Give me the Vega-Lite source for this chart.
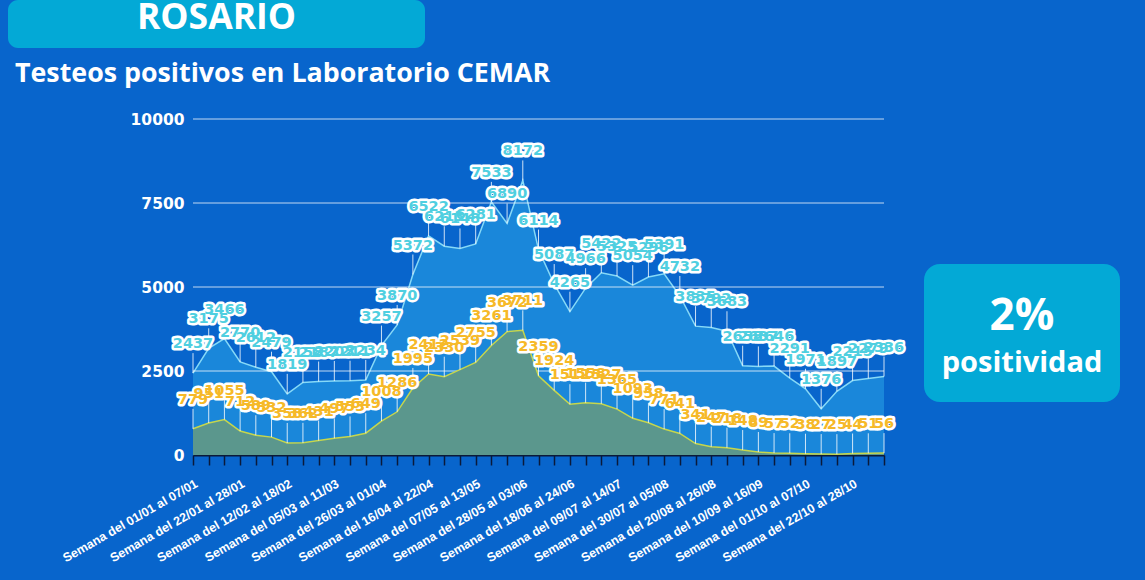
{
  "$schema": "https://vega.github.io/schema/vega-lite/v6.json",
  "background": "#0865cc",
  "padding": {"left": 8, "top": 0, "right": 25, "bottom": 60},
  "config": {"view": {"stroke": null}, "font": "Open Sans"},
  "datasets": {
    "semanas": [
      {"semana": "Semana del 01/01 al 07/01", "total": 2437, "positivos": 779},
      {"semana": "Semana del 08/01 al 14/01", "total": 3175, "positivos": 951},
      {"semana": "Semana del 15/01 al 21/01", "total": 3466, "positivos": 1055},
      {"semana": "Semana del 22/01 al 28/01", "total": 2770, "positivos": 712},
      {"semana": "Semana del 29/01 al 04/02", "total": 2612, "positivos": 589},
      {"semana": "Semana del 05/02 al 11/02", "total": 2479, "positivos": 532},
      {"semana": "Semana del 12/02 al 18/02", "total": 1819, "positivos": 358},
      {"semana": "Semana del 19/02 al 25/02", "total": 2158, "positivos": 362},
      {"semana": "Semana del 26/02 al 04/03", "total": 2187, "positivos": 431},
      {"semana": "Semana del 05/03 al 11/03", "total": 2203, "positivos": 497},
      {"semana": "Semana del 12/03 al 18/03", "total": 2211, "positivos": 553},
      {"semana": "Semana del 19/03 al 25/03", "total": 2234, "positivos": 649},
      {"semana": "Semana del 26/03 al 01/04", "total": 3257, "positivos": 1008},
      {"semana": "Semana del 02/04 al 08/04", "total": 3870, "positivos": 1286},
      {"semana": "Semana del 09/04 al 15/04", "total": 5372, "positivos": 1995},
      {"semana": "Semana del 16/04 al 22/04", "total": 6522, "positivos": 2412},
      {"semana": "Semana del 23/04 al 29/04", "total": 6213, "positivos": 2330},
      {"semana": "Semana del 30/04 al 06/05", "total": 6148, "positivos": 2539},
      {"semana": "Semana del 07/05 al 13/05", "total": 6281, "positivos": 2755},
      {"semana": "Semana del 14/05 al 20/05", "total": 7533, "positivos": 3261},
      {"semana": "Semana del 21/05 al 27/05", "total": 6890, "positivos": 3672},
      {"semana": "Semana del 28/05 al 03/06", "total": 8172, "positivos": 3711},
      {"semana": "Semana del 04/06 al 10/06", "total": 6114, "positivos": 2359},
      {"semana": "Semana del 11/06 al 17/06", "total": 5087, "positivos": 1924},
      {"semana": "Semana del 18/06 al 24/06", "total": 4265, "positivos": 1512},
      {"semana": "Semana del 25/06 al 01/07", "total": 4966, "positivos": 1558},
      {"semana": "Semana del 02/07 al 08/07", "total": 5422, "positivos": 1527},
      {"semana": "Semana del 09/07 al 14/07", "total": 5325, "positivos": 1365},
      {"semana": "Semana del 16/07 al 22/07", "total": 5054, "positivos": 1093},
      {"semana": "Semana del 23/07 al 29/07", "total": 5296, "positivos": 958},
      {"semana": "Semana del 30/07 al 05/08", "total": 5391, "positivos": 771},
      {"semana": "Semana del 06/08 al 12/08", "total": 4732, "positivos": 641},
      {"semana": "Semana del 13/08 al 19/08", "total": 3835, "positivos": 341},
      {"semana": "Semana del 20/08 al 26/08", "total": 3792, "positivos": 247},
      {"semana": "Semana del 27/08 al 02/09", "total": 3683, "positivos": 218},
      {"semana": "Semana del 03/09 al 09/09", "total": 2658, "positivos": 148},
      {"semana": "Semana del 10/09 al 16/09", "total": 2637, "positivos": 89},
      {"semana": "Semana del 17/09 al 23/09", "total": 2646, "positivos": 57},
      {"semana": "Semana del 24/09 al 30/09", "total": 2291, "positivos": 52},
      {"semana": "Semana del 01/10 al 07/10", "total": 1971, "positivos": 38},
      {"semana": "Semana del 08/10 al 14/10", "total": 1376, "positivos": 27},
      {"semana": "Semana del 15/10 al 21/10", "total": 1897, "positivos": 25},
      {"semana": "Semana del 22/10 al 28/10", "total": 2215, "positivos": 44},
      {"semana": "Semana del 29/10 al 04/11", "total": 2279, "positivos": 51},
      {"semana": "Semana del 05/11 al 11/11", "total": 2336, "positivos": 56}
    ],
    "grilla": [{"g": 2500}, {"g": 5000}, {"g": 7500}, {"g": 10000}],
    "caja": [{"t": "2%"}, {"t": "positividad"}]
  },
  "bounds": "flush",
  "spacing": 71,
  "vconcat": [
    {
      "width": 417,
      "height": 48,
      "view": {"fill": "#03a9d6", "cornerRadius": 10, "stroke": null},
      "data": {"values": [{"t": "ROSARIO"}]},
      "mark": {"type": "text", "font": "Open Sans", "fontWeight": "bold", "fontSize": 35.5, "color": "white", "baseline": "middle", "dy": -6},
      "encoding": {"text": {"field": "t"}}
    },
    {
      "bounds": "flush",
      "spacing": 40,
      "hconcat": [
        {
          "width": 145,
          "height": 10,
          "data": {"values": [{}]},
          "mark": {"type": "text", "text": ""}
        },
        {
          "width": 691,
          "height": 336,
          "title": {"text": "Testeos positivos en Laboratorio CEMAR", "anchor": "start", "frame": "group", "dx": -178, "offset": 24, "color": "white", "fontSize": 26.8, "font": "Open Sans", "fontWeight": "bold"},
          "layer": [
            {
              "data": {"name": "semanas"},
              "mark": {"type": "area", "color": "#1d8bdc", "opacity": 0.9, "line": {"color": "#86d9f7", "strokeWidth": 1.5}},
              "encoding": {
                "x": {"field": "semana", "type": "ordinal", "sort": null, "scale": {"type": "point", "padding": 0},
                  "axis": {"title": null, "labelAngle": -30, "labelColor": "white", "labelFont": "Liberation Sans", "labelFontSize": 12.5, "labelFontWeight": "bold", "labelExpr": "round(datum.index*44) % 3 == 0 ? datum.label : ''", "labelOverlap": false, "labelBound": false, "tickColor": "#0b1a3a", "tickSize": 10, "tickWidth": 1.5, "domainColor": "#0b1a3a", "domainWidth": 2, "labelPadding": 12, "grid": false}},
                "y": {"field": "total", "type": "quantitative", "scale": {"domain": [0, 10000]},
                  "axis": {"title": null, "values": [0, 2500, 5000, 7500, 10000], "format": "d", "labelColor": "white", "labelFontSize": 15.5, "labelFontWeight": "bold", "labelFont": "DejaVu Sans", "domain": false, "ticks": false, "grid": false, "labelPadding": 9}}
              }
            },
            {
              "data": {"name": "grilla"},
              "mark": {"type": "rule", "color": "white", "strokeWidth": 1, "opacity": 0.75},
              "encoding": {"y": {"field": "g", "type": "quantitative"}}
            },
            {
              "data": {"name": "semanas"},
              "mark": {"type": "area", "color": "#5b978d", "opacity": 1, "line": {"color": "#c6d64c", "strokeWidth": 1.5}},
              "encoding": {
                "x": {"field": "semana", "type": "ordinal", "sort": null},
                "y": {"field": "positivos", "type": "quantitative"}
              }
            },
            {
              "data": {"name": "semanas"},
              "mark": {"type": "rule", "color": "white", "strokeWidth": 1, "opacity": 0.8, "y2Offset": -20},
              "encoding": {
                "x": {"field": "semana", "type": "ordinal", "sort": null},
                "y": {"field": "positivos", "type": "quantitative"},
                "y2": {"field": "positivos"}
              }
            },
            {
              "data": {"name": "semanas"},
              "mark": {"type": "rule", "color": "white", "strokeWidth": 1, "opacity": 0.8, "y2Offset": -20},
              "encoding": {
                "x": {"field": "semana", "type": "ordinal", "sort": null},
                "y": {"field": "total", "type": "quantitative"},
                "y2": {"field": "total"}
              }
            },
            {
              "data": {"name": "semanas"},
              "mark": {"type": "text", "font": "DejaVu Sans", "fontWeight": "bold", "fontSize": 14.5, "baseline": "middle", "dy": -29, "fill": "white", "stroke": "white", "strokeWidth": 5, "strokeJoin": "round"},
              "encoding": {
                "x": {"field": "semana", "type": "ordinal", "sort": null},
                "y": {"field": "positivos", "type": "quantitative"},
                "text": {"field": "positivos", "type": "quantitative", "format": "d"}
              }
            },
            {
              "data": {"name": "semanas"},
              "mark": {"type": "text", "font": "DejaVu Sans", "fontWeight": "bold", "fontSize": 14.5, "baseline": "middle", "dy": -29, "fill": "#f6b928"},
              "encoding": {
                "x": {"field": "semana", "type": "ordinal", "sort": null},
                "y": {"field": "positivos", "type": "quantitative"},
                "text": {"field": "positivos", "type": "quantitative", "format": "d"}
              }
            },
            {
              "data": {"name": "semanas"},
              "mark": {"type": "text", "font": "DejaVu Sans", "fontWeight": "bold", "fontSize": 14.5, "baseline": "middle", "dy": -29, "fill": "white", "stroke": "white", "strokeWidth": 5, "strokeJoin": "round"},
              "encoding": {
                "x": {"field": "semana", "type": "ordinal", "sort": null},
                "y": {"field": "total", "type": "quantitative"},
                "text": {"field": "total", "type": "quantitative", "format": "d"}
              }
            },
            {
              "data": {"name": "semanas"},
              "mark": {"type": "text", "font": "DejaVu Sans", "fontWeight": "bold", "fontSize": 14.5, "baseline": "middle", "dy": -29, "fill": "#4fcfe0"},
              "encoding": {
                "x": {"field": "semana", "type": "ordinal", "sort": null},
                "y": {"field": "total", "type": "quantitative"},
                "text": {"field": "total", "type": "quantitative", "format": "d"}
              }
            }
          ]
        },
        {
          "bounds": "flush",
          "spacing": 18,
          "vconcat": [
            {
              "width": 196,
              "height": 127,
              "data": {"values": [{}]},
              "mark": {"type": "text", "text": ""}
            },
            {
              "width": 196,
              "height": 138,
              "view": {"fill": "#03a9d6", "cornerRadius": 16, "stroke": null},
              "data": {"name": "caja"},
              "layer": [
                {
                  "transform": [{"filter": "datum.t == '2%'"}],
                  "mark": {"type": "text", "font": "Open Sans", "fontWeight": "bold", "fontSize": 44, "color": "white", "baseline": "middle", "dy": 7},
                  "encoding": {
                    "y": {"field": "t", "type": "nominal", "sort": null, "axis": null, "scale": {"type": "point", "padding": 1.07, "domain": ["2%", "positividad"]}},
                    "text": {"field": "t"}
                  }
                },
                {
                  "transform": [{"filter": "datum.t != '2%'"}],
                  "mark": {"type": "text", "font": "Open Sans", "fontWeight": "bold", "fontSize": 29, "color": "white", "baseline": "middle", "dy": 7},
                  "encoding": {
                    "y": {"field": "t", "type": "nominal", "sort": null, "axis": null},
                    "text": {"field": "t"}
                  }
                }
              ]
            }
          ]
        }
      ]
    }
  ]
}
